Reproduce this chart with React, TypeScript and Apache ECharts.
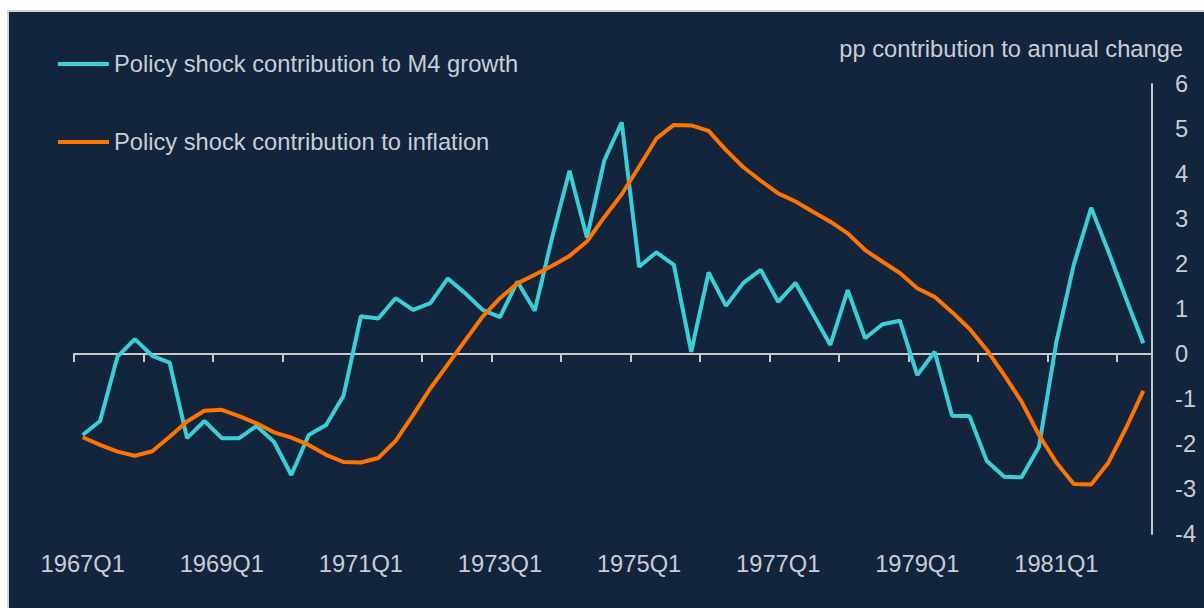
import React, { useEffect, useRef } from "react";
import * as echarts from "echarts";

const categories = [
  "1967Q1","1967Q2","1967Q3","1967Q4","1968Q1","1968Q2","1968Q3","1968Q4",
  "1969Q1","1969Q2","1969Q3","1969Q4","1970Q1","1970Q2","1970Q3","1970Q4",
  "1971Q1","1971Q2","1971Q3","1971Q4","1972Q1","1972Q2","1972Q3","1972Q4",
  "1973Q1","1973Q2","1973Q3","1973Q4","1974Q1","1974Q2","1974Q3","1974Q4",
  "1975Q1","1975Q2","1975Q3","1975Q4","1976Q1","1976Q2","1976Q3","1976Q4",
  "1977Q1","1977Q2","1977Q3","1977Q4","1978Q1","1978Q2","1978Q3","1978Q4",
  "1979Q1","1979Q2","1979Q3","1979Q4","1980Q1","1980Q2","1980Q3","1980Q4",
  "1981Q1","1981Q2","1981Q3","1981Q4","1982Q1","1982Q2",
];

const m4Contribution = [
  -1.80, -1.49, -0.06, 0.33, -0.04, -0.19, -1.87, -1.49,
  -1.87, -1.87, -1.60, -1.95, -2.69, -1.80, -1.58, -0.93,
  0.84, 0.79, 1.24, 0.98, 1.13, 1.68, 1.35, 0.98,
  0.82, 1.61, 0.96, 2.59, 4.07, 2.59, 4.30, 5.15,
  1.94, 2.26, 1.98, 0.05, 1.81, 1.07, 1.58, 1.87,
  1.16, 1.58, 0.89, 0.20, 1.42, 0.35, 0.66, 0.74,
  -0.47, 0.05, -1.37, -1.38, -2.38, -2.73, -2.74, -2.06,
  0.27, 1.98, 3.25, 2.27, 1.24, 0.24,
];

const inflationContribution = [
  -1.85, -2.02, -2.17, -2.26, -2.16, -1.84, -1.50, -1.26,
  -1.24, -1.38, -1.54, -1.74, -1.86, -2.02, -2.24, -2.40,
  -2.41, -2.31, -1.93, -1.36, -0.76, -0.23, 0.30, 0.83,
  1.24, 1.57, 1.76, 1.96, 2.18, 2.50, 3.04, 3.55,
  4.16, 4.79, 5.09, 5.08, 4.96, 4.53, 4.15, 3.85,
  3.57, 3.39, 3.16, 2.94, 2.68, 2.31, 2.05, 1.80,
  1.46, 1.27, 0.93, 0.56, 0.09, -0.47, -1.06, -1.80,
  -2.41, -2.89, -2.90, -2.41, -1.65, -0.82,
];

const seriesNames = [
  "Policy shock contribution to M4 growth",
  "Policy shock contribution to inflation",
];
const unitLabel = "pp contribution to annual change";

const BG = "#13243d";
const TEXT = "#c9cdd4";
const AXIS = "#c8c8c8";
const TEAL = "#3acfd6";
const ORANGE = "#ff7300";
const FONT = "'Liberation Sans', Arial, sans-serif";
const FS = 23.7;

export default function App() {
  const ref = useRef<HTMLDivElement>(null);

  useEffect(() => {
    if (!ref.current) return;
    const chart = echarts.init(ref.current, null, { renderer: "svg" });
    const textStyle = { color: TEXT, fontSize: FS, fontFamily: FONT, lineHeight: 24 };
    chart.setOption({
      animation: false,
      backgroundColor: "#ffffff",
      color: [TEAL, ORANGE],
      graphic: [
        {
          type: "rect",
          z: -10,
          silent: true,
          shape: { x: 8, y: 11, width: 1210, height: 610 },
          style: { fill: BG, stroke: "#d2d2d2", lineWidth: 2 },
        },
      ],
      title: {
        text: unitLabel,
        right: 21,
        top: 37,
        padding: 0,
        textStyle: { ...textStyle, fontWeight: "normal" },
      },
      legend: [
        {
          data: [seriesNames[0]],
          left: 58,
          top: 52,
          padding: 0,
          icon: "rect",
          itemWidth: 51,
          itemHeight: 4,
          itemGap: 0,
          textStyle,
        },
        {
          data: [seriesNames[1]],
          left: 58,
          top: 130,
          padding: 0,
          icon: "rect",
          itemWidth: 51,
          itemHeight: 4,
          itemGap: 0,
          textStyle,
        },
      ],
      grid: { left: 74, right: 52, top: 84, bottom: 74 },
      xAxis: [
        {
          type: "category",
          data: categories,
          boundaryGap: true,
          position: "bottom",
          axisLine: { show: false, onZero: false },
          axisTick: { show: false },
          splitLine: { show: false },
          axisLabel: {
            interval: 7,
            margin: 18,
            color: TEXT,
            fontSize: FS,
            fontFamily: FONT,
          },
        },
        {
          type: "category",
          data: categories,
          boundaryGap: true,
          position: "bottom",
          axisLine: { show: true, onZero: true, onZeroAxisIndex: 0, lineStyle: { color: AXIS, width: 2 } },
          axisTick: { show: true, interval: 3, length: 8, lineStyle: { color: AXIS, width: 2 } },
          axisLabel: { show: false },
          splitLine: { show: false },
        },
      ],
      yAxis: {
        type: "value",
        position: "right",
        min: -4,
        max: 6,
        interval: 1,
        axisLine: { show: true, onZero: false, lineStyle: { color: AXIS, width: 2 } },
        axisTick: { show: false },
        splitLine: { show: false },
        axisLabel: {
          margin: 23,
          color: TEXT,
          fontSize: FS,
          fontFamily: FONT,
        },
      },
      series: [
        {
          name: seriesNames[0],
          type: "line",
          data: m4Contribution,
          showSymbol: false,
          symbol: "none",
          lineStyle: { color: TEAL, width: 4 },
          itemStyle: { color: TEAL },
          z: 3,
        },
        {
          name: seriesNames[1],
          type: "line",
          data: inflationContribution,
          showSymbol: false,
          symbol: "none",
          lineStyle: { color: ORANGE, width: 4 },
          itemStyle: { color: ORANGE },
          z: 4,
        },
      ],
    });
    return () => chart.dispose();
  }, []);

  return (
    <div
      ref={ref}
      style={{ position: "fixed", left: 0, top: 0, width: 1204, height: 608 }}
    />
  );
}
